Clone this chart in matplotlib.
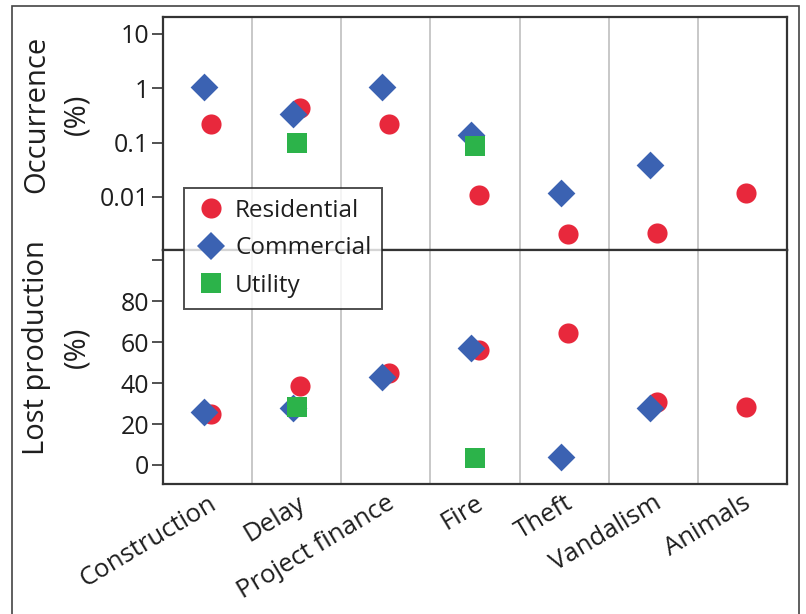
import matplotlib.pyplot as plt
import matplotlib.transforms as mtransforms
from matplotlib.patches import Rectangle
from matplotlib.lines import Line2D
import numpy as np

plt.rcParams['font.family'] = ['Open Sans', 'DejaVu Sans']

categories = ["Construction", "Delay", "Project finance", "Fire", "Theft", "Vandalism", "Animals"]

# occurrence (%) per category, None = no data
occ_residential = [0.22, 0.43, 0.22, 0.011, 0.0021, 0.0022, 0.012]
occ_commercial = [1.05, 0.33, 1.05, 0.14, 0.012, 0.039, None]
occ_utility = [None, 0.10, None, 0.088, None, None, None]

# lost production (%) per category
lost_residential = [25, 38.5, 45, 56, 64.5, 31, 28.5]
lost_commercial = [26, 28, 43, 57, 4, 28, None]
lost_utility = [None, 28.5, None, 3.5, None, None, None]

red = "#e8283c"
blue = "#3b62b2"
green = "#2cb34a"
text_color = "#1e1e1e"

series = [
    ("Residential", occ_residential, lost_residential, red, "o", 210, 0.04),
    ("Commercial", occ_commercial, lost_commercial, blue, "D", 200, -0.04),
    ("Utility", occ_utility, lost_utility, green, "s", 200, 0.0),
]

fig = plt.figure(figsize=(8.06, 6.14), dpi=100)
ax1 = fig.add_axes([0.2022, 0.5928, 0.7742, 0.3795])
ax2 = fig.add_axes([0.2022, 0.2117, 0.7742, 0.3811])

x = np.arange(len(categories))

def plot_series(ax, vals, color, marker, size, dx):
    xs = [xi + dx for xi, v in zip(x, vals) if v is not None]
    ys = [v for v in vals if v is not None]
    ax.scatter(xs, ys, s=size, c=color, marker=marker, linewidths=0, zorder=3)

for name, occ, lost, color, marker, size, dx in series:
    plot_series(ax1, occ, color, marker, size, dx)
    plot_series(ax2, lost, color, marker, size, dx)

ax1.set_yscale("log")
ax1.set_ylim(0.00106, 20.3)
ax1.set_yticks([0.01, 0.1, 1, 10])
ax1.set_yticklabels(["0.01", "0.1", "1", "10"])
ax1.minorticks_off()

ax2.set_ylim(-9.3, 105)
ax2.set_yticks([0, 20, 40, 60, 80, 100])
ax2.set_yticklabels(["0", "20", "40", "60", "80", ""])

for ax in (ax1, ax2):
    ax.set_xlim(-0.5, len(categories) - 0.5)
    for b in np.arange(0.5, len(categories) - 0.5):
        ax.axvline(b, color="#c4c4c4", lw=1.3, zorder=1)
    for sp in ax.spines.values():
        sp.set_color("#333333")
        sp.set_linewidth(1.6)
    ax.tick_params(axis="y", direction="out", length=8, width=1.2, color="#333333",
                   labelsize=18, labelcolor=text_color, pad=2)
    ax.tick_params(axis="x", length=0)

ax1.set_xticks([])
ax2.set_xticks(x)
ax2.set_xticklabels(categories, rotation=31, ha="right", va="top", rotation_mode="anchor",
                    fontsize=18.5, color=text_color)
shift = mtransforms.ScaledTranslation(9 / 100, 0, fig.dpi_scale_trans)
for lbl in ax2.get_xticklabels():
    lbl.set_transform(lbl.get_transform() + shift)
ax2.tick_params(axis="x", pad=5)

ax1.set_ylabel("Occurrence\n(%)", fontsize=21, color=text_color, linespacing=1.5)
ax2.set_ylabel("Lost production\n(%)", fontsize=21, color=text_color, linespacing=1.5)
ax1.yaxis.set_label_coords(-0.115, 0.584)
ax2.yaxis.set_label_coords(-0.115, 0.585)

handles = [Line2D([], [], ls="", marker=m, color=c, markersize=np.sqrt(s), markeredgewidth=0)
           for _, _, _, c, m, s, _ in series]
leg = fig.legend(handles, [s[0] for s in series], loc="upper left",
                 bbox_to_anchor=(184 / 806, 1 - 188 / 614), borderaxespad=0, fontsize=17.5,
                 frameon=True, fancybox=False, edgecolor="#222222", labelcolor=text_color,
                 handletextpad=0.35, borderpad=0.45, labelspacing=0.55, handlelength=1.3)
leg.get_frame().set_linewidth(1.4)
leg.set_zorder(10)

# outer frame around the whole figure
fig.patches.append(Rectangle((12 / 806, -0.05), 787 / 806, 1.05 - 6 / 614,
                             transform=fig.transFigure, fill=False,
                             edgecolor="#444444", lw=1.2))

fig.savefig("out.png", dpi=100)
